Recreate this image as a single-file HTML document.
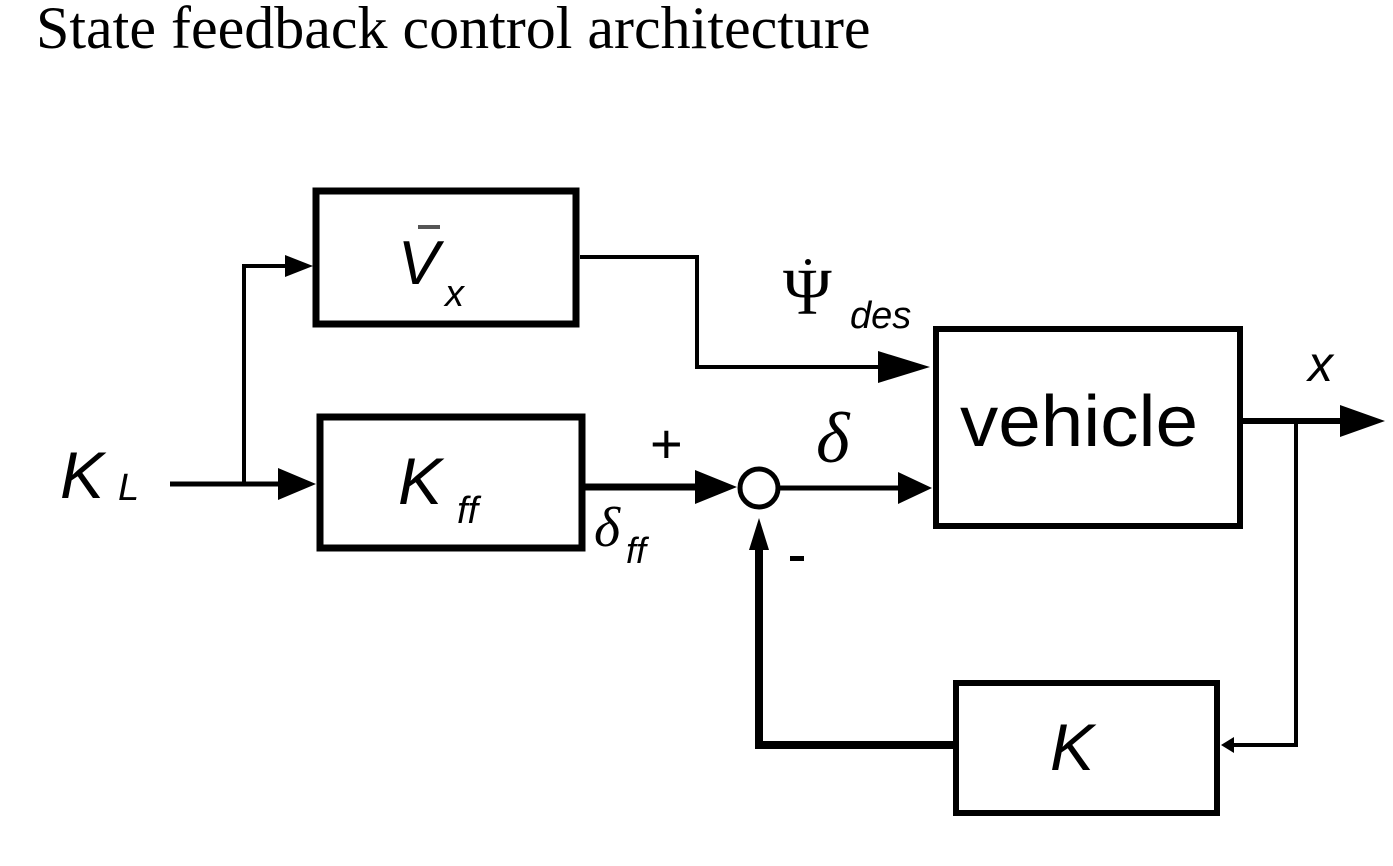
<!DOCTYPE html>
<html><head><meta charset="utf-8"><style>
html,body{margin:0;padding:0;background:#fff;}
body{width:1393px;height:866px;position:relative;overflow:hidden;}
.t{position:absolute;left:36px;top:-6px;font-family:"Liberation Serif",serif;font-size:60px;color:#000;white-space:nowrap;}
svg{position:absolute;left:0;top:0;}
</style></head><body>
<div class="t">State feedback control architecture</div>
<svg width="1393" height="866" viewBox="0 0 1393 866">
<g fill="none" stroke="#000">
<rect x="316" y="191" width="260" height="133" stroke-width="7"/>
<rect x="320" y="417" width="262" height="131" stroke-width="7"/>
<rect x="936" y="329" width="304" height="197" stroke-width="6"/>
<rect x="956" y="683" width="261" height="130" stroke-width="6"/>
<circle cx="759" cy="488" r="19" stroke-width="5"/>
<polyline points="170,484 285,484" stroke-width="5"/>
<polyline points="244,484 244,266 290,266" stroke-width="4"/>
<polyline points="580,257 697,257 697,367 880,367" stroke-width="4"/>
<line x1="585" y1="487" x2="700" y2="487" stroke-width="7"/>
<line x1="778" y1="488" x2="900" y2="488" stroke-width="5"/>
<line x1="1242" y1="421" x2="1350" y2="421" stroke-width="6"/>
<polyline points="1296,421 1296,745 1232,745" stroke-width="4"/>
<polyline points="953,745 759,745 759,540" stroke-width="8"/>
</g>
<g fill="#000">
<polygon points="285,255 313,266 285,277"/>
<polygon points="278,468 316,484 278,500"/>
<polygon points="878,351 930,367 878,383"/>
<polygon points="695,470 737,487 695,504"/>
<polygon points="898,472 932,488 898,504"/>
<polygon points="1340,405 1385,421 1340,437"/>
<polygon points="1234,737 1221,745 1234,753"/>
<polygon points="749,550 759,518 769,550"/>
</g>
<g font-family="Liberation Sans, sans-serif" font-style="italic" fill="#000">
<text x="60" y="498" font-size="66">K</text>
<text x="118" y="500" font-size="38">L</text>
<text x="398" y="284" font-size="62">V</text>
<line x1="418" y1="227" x2="440" y2="227" stroke="#555" stroke-width="4"/>
<text x="445" y="306" font-size="38">x</text>
<text x="398" y="504" font-size="66">K</text>
<text x="457" y="523" font-size="38">ff</text>
<text x="1050" y="770" font-size="66">K</text>
<text x="1308" y="381" font-size="50">x</text>
<text x="850" y="328" font-size="38">des</text>
<text x="626" y="563" font-size="36">ff</text>
</g>
<g font-family="Liberation Serif, serif" fill="#000">
<text x="783" y="314" font-size="66">Ψ</text>
<circle cx="808" cy="262" r="3"/>
<text x="816" y="462" font-size="72" font-style="italic">δ</text>
<text x="594" y="546" font-size="56" font-style="italic">δ</text>
</g>
<g font-family="Liberation Sans, sans-serif" fill="#000">
<text x="650" y="463" font-size="56">+</text>
<rect x="790" y="556" width="14" height="5"/>
<text x="960" y="446" font-size="72" textLength="238" lengthAdjust="spacingAndGlyphs">vehicle</text>
</g>
</svg>
</body></html>
